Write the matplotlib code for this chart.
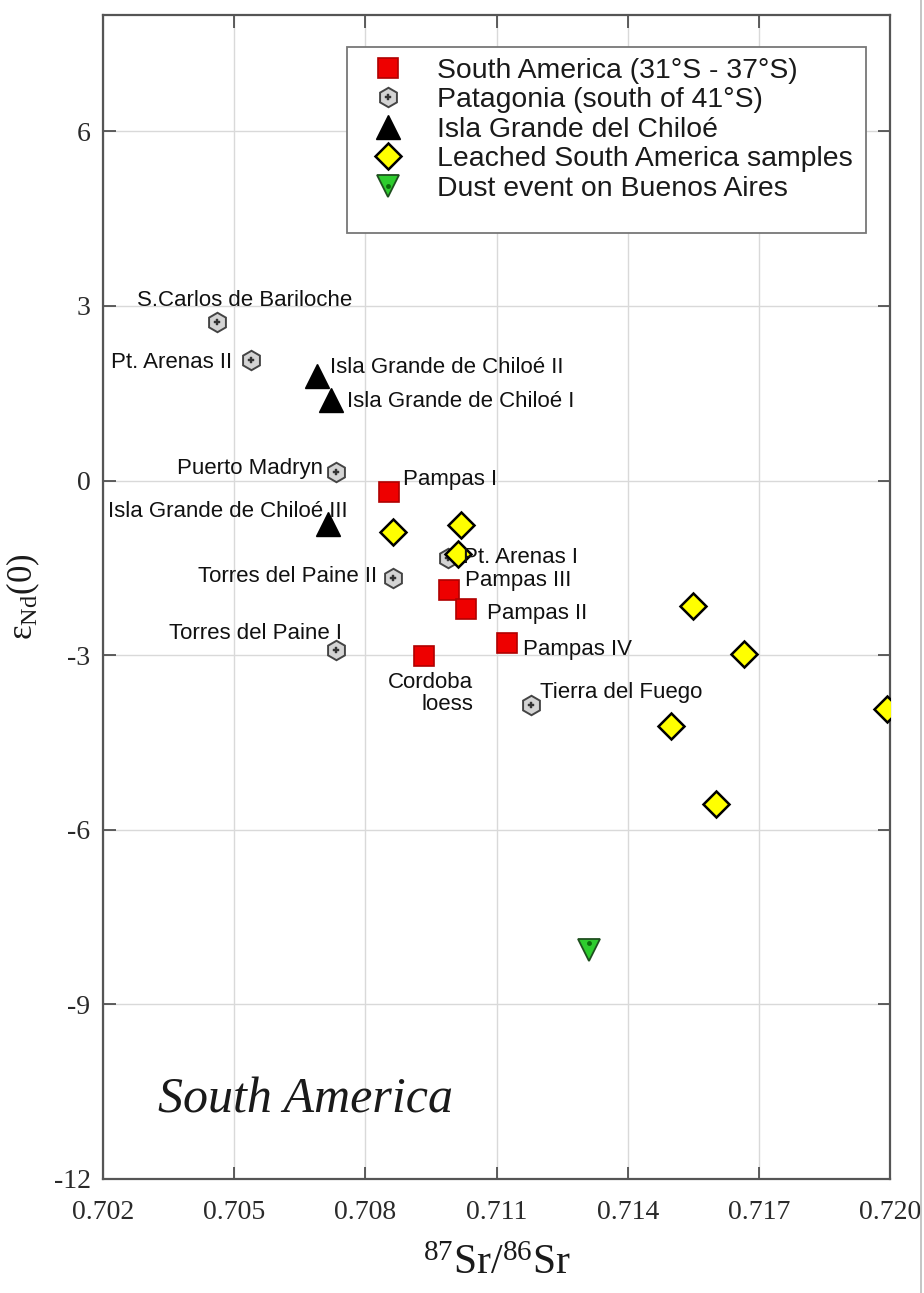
import matplotlib.pyplot as plt
from matplotlib.lines import Line2D
from matplotlib.patches import Rectangle
from matplotlib.legend_handler import HandlerTuple

# South America (31S - 37S)
sa_sr = [0.70855, 0.70992, 0.71031, 0.71123, 0.70935]
sa_nd = [-0.19, -1.88, -2.20, -2.79, -3.01]
sa_names = ["Pampas I", "Pampas III", "Pampas II", "Pampas IV", "Cordoba\nloess"]

# Patagonia (south of 41S)
pat_sr = [0.70461, 0.70539, 0.70734, 0.70988, 0.70864, 0.70734, 0.71180]
pat_nd = [2.72, 2.07, 0.14, -1.33, -1.67, -2.91, -3.86]
pat_names = ["S.Carlos de Bariloche", "Pt. Arenas II", "Puerto Madryn", "Pt. Arenas I",
             "Torres del Paine II", "Torres del Paine I", "Tierra del Fuego"]

# Isla Grande del Chiloe
chi_sr = [0.70690, 0.70722, 0.70715]
chi_nd = [1.79, 1.39, -0.74]
chi_names = ["Isla Grande de Chiloé II", "Isla Grande de Chiloé I", "Isla Grande de Chiloé III"]

# leached South America samples
lea_sr = [0.70864, 0.71018, 0.71011, 0.71549, 0.71666, 0.71498, 0.71602, 0.71993]
lea_nd = [-0.88, -0.77, -1.27, -2.15, -2.98, -4.22, -5.56, -3.92]

# dust event on Buenos Aires
dust_sr = [0.71311]
dust_nd = [-8.06]

legend_labels = ["South America (31°S - 37°S)", "Patagonia (south of 41°S)",
                 "Isla Grande del Chiloé", "Leached South America samples",
                 "Dust event on Buenos Aires"]

# label offsets in points (dx, dy, ha)
sa_off = [(10, 8.5, "left"), (11, 6.5, "left"), (15, -3.6, "left"),
          (11.5, -5, "left"), (35, -27, "right")]
pat_off = [(20, 16, "center"), (-14, -1.5, "right"), (-10, 3, "right"), (11, 0.7, "left"),
           (-11.5, 0.7, "right"), (4.3, 11.5, "right"), (6, 9.4, "left")]
chi_off = [(9, 6.5, "left"), (11.5, -1.5, "left"), (13.7, 8.6, "right")]

plt.rcParams["mathtext.fontset"] = "custom"
plt.rcParams["mathtext.rm"] = "Liberation Serif"
plt.rcParams["mathtext.it"] = "Liberation Serif:italic"

fig = plt.figure(figsize=(9.24, 12.93), dpi=100)
ax = fig.add_axes([0.1115, 0.0882, 0.8517, 0.9002])

ax.set_xlim(0.702, 0.720)
ax.set_ylim(-12, 8)
ax.set_xticks([0.702, 0.705, 0.708, 0.711, 0.714, 0.717, 0.720])
ax.set_yticks([-12, -9, -6, -3, 0, 3, 6])
ax.set_xticklabels(["0.702", "0.705", "0.708", "0.711", "0.714", "0.717", "0.720"])
ax.set_yticklabels(["-12", "-9", "-6", "-3", "0", "3", "6"])
ax.grid(True, color="#d9d9d9", linewidth=1.0, zorder=0)
ax.set_axisbelow(True)
ax.tick_params(direction="in", length=9, width=1.2, color="#444444", top=True, right=True,
               labelsize=20)
ax.tick_params(axis="x", pad=15)
ax.tick_params(axis="y", pad=9)
for lab in ax.get_xticklabels() + ax.get_yticklabels():
    lab.set_fontfamily("Liberation Serif")
    lab.set_color("#2a2a2a")
for sp in ax.spines.values():
    sp.set_color("#555555")
    sp.set_linewidth(1.6)

# markers
h_sa, = ax.plot(sa_sr, sa_nd, "s", ms=15, mfc="#ee0000", mec="#b00000", mew=1.2, ls="none", zorder=4)
h_pat, = ax.plot(pat_sr, pat_nd, "h", ms=14, mfc="#d4d4d4", mec="#444444", mew=1.4, ls="none", zorder=3)
h_pat2, = ax.plot(pat_sr, pat_nd, "P", ms=5, mfc="#333333", mec="#333333", mew=0.3, ls="none", zorder=3)
h_chi, = ax.plot(chi_sr, chi_nd, "^", ms=17, mfc="black", mec="black", ls="none", zorder=4)
h_lea, = ax.plot(lea_sr, lea_nd, "D", ms=13, mfc="#ffff00", mec="black", mew=1.8, ls="none", zorder=5)
h_dust, = ax.plot(dust_sr, dust_nd, "v", ms=16, mfc="#2ecc2e", mec="#1f4f1f", mew=1.3, ls="none", zorder=4)
h_dust2, = ax.plot(dust_sr, [d + 0.12 for d in dust_nd], "o", ms=3.5, mfc="#0a6a0a", mec="none", ls="none", zorder=5)

label_kw = dict(textcoords="offset points", va="center", fontsize=16,
                family="Liberation Sans", color="#111111", zorder=6)
for xs, ys, names, offs in [(sa_sr, sa_nd, sa_names, sa_off),
                            (pat_sr, pat_nd, pat_names, pat_off),
                            (chi_sr, chi_nd, chi_names, chi_off)]:
    for x, y, name, (dx, dy, ha) in zip(xs, ys, names, offs):
        ax.annotate(name, (x, y), xytext=(dx, dy), ha=ha, multialignment="right",
                    linespacing=1.05, **label_kw)

ax.text(0.07, 0.068, "South America", transform=ax.transAxes, fontsize=36,
        family="Liberation Serif", style="italic", color="#1a1a1a", va="center")

# legend box drawn by hand (taller than the entries)
ax.add_patch(Rectangle((0.310, 0.8127), 0.6595, 0.1598, transform=ax.transAxes,
                       facecolor="white", edgecolor="#777777", linewidth=1.3, zorder=7))
leg = ax.legend([h_sa, (h_pat, h_pat2), h_chi, h_lea, (h_dust, h_dust2)], legend_labels,
                handler_map={tuple: HandlerTuple(ndivide=1, pad=0)},
                loc="upper left", bbox_to_anchor=(0.333, 0.9631),
                prop={"family": "Liberation Sans", "size": 20.4},
                frameon=False, borderpad=0, labelspacing=0.12, handletextpad=0.95,
                handlelength=1.6, borderaxespad=0)
leg.set_zorder(8)
for t in leg.get_texts():
    t.set_color("#1a1a1a")

ax.set_xlabel(r"$^{87}\mathrm{Sr}/^{86}\mathrm{Sr}$", fontsize=30, labelpad=14,
              family="Liberation Serif", color="#1a1a1a")
ax.set_ylabel(r"ε$_{\mathrm{Nd}}$(0)", fontsize=25, labelpad=8,
              family="Liberation Serif", color="#1a1a1a")

# outer frame line on the right of the picture
fig.add_artist(Line2D([0.9965, 0.9965], [0, 1], transform=fig.transFigure,
                      color="#bbbbbb", linewidth=1.2))

fig.savefig("out.png", dpi=100)
